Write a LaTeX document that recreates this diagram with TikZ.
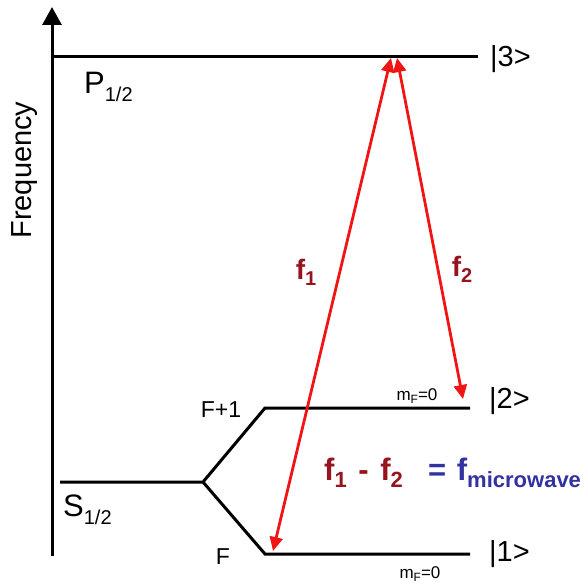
\documentclass[tikz,border=0pt]{standalone}
\usepackage{fontspec}
\setmainfont{Liberation Sans}
\usetikzlibrary{arrows.meta}
\definecolor{laser}{RGB}{240,20,20}
\definecolor{dred}{RGB}{150,20,30}
\definecolor{dblue}{RGB}{50,50,160}
\newcommand\fs[1]{\fontsize{#1}{#1}\selectfont}
\newcommand\lowsub[2]{\raisebox{-#1}{#2}}
\begin{document}
\begin{tikzpicture}[x=1pt,y=-1pt,
  level/.style={line width=3pt,black},
  beam/.style={line width=2.8pt,laser,{Triangle[length=14pt,width=13pt]}-{Triangle[length=14pt,width=13pt]}},
  lbl/.style={inner sep=0pt,font=\fs{23}},
  ket/.style={inner sep=0pt,font=\fs{29},anchor=west},
  mf/.style={inner sep=0pt,font=\fs{17}},
  flab/.style={inner sep=0pt,font=\fs{28}\bfseries,text=dred}]
\useasboundingbox (0,0) rectangle (588,583);
% axis
\coordinate (ax0) at (52,556);
\coordinate (ax1) at (52,7);
\draw[line width=3pt,-{Triangle[length=18pt,width=19pt]}] (ax0) -- (ax1);
\node[lbl,rotate=90,font=\fs{29}] (freq) at (25,170) {Frequency};
% P level
\coordinate (p0) at (52,57);
\coordinate (p1) at (478,57);
\draw[level] (p0) -- (p1);
\node[lbl,anchor=west,font=\fs{31}] (P) at (84,87) {P\lowsub{8pt}{\fs{20}1/2}};
\node[ket] (k3) at (490,59) {|3>};
% S level
\coordinate (s0) at (60,482);
\coordinate (br) at (203,482);
\coordinate (u0) at (265,408);
\coordinate (u1) at (470,408);
\coordinate (l0) at (265,554);
\coordinate (l1) at (470,554);
\draw[level,line join=miter] (s0) -- (br) -- (u0) -- (u1);
\draw[level,line join=miter] (br) -- (l0) -- (l1);
\node[lbl,anchor=west,font=\fs{31}] (S) at (63,510) {S\lowsub{8pt}{\fs{20}1/2}};
\node[lbl,font=\fs{23}] (Fp) at (221,410) {F+1};
\node[lbl,font=\fs{23}] (F) at (223,557) {F};
\node[mf] (m2) at (417,396) {m\lowsub{3pt}{\fs{12}F}=0};
\node[mf] (m1) at (420,574) {m\lowsub{3pt}{\fs{12}F}=0};
\node[ket] (k2) at (489,401) {|2>};
\node[ket] (k1) at (489,554) {|1>};
% beams
\coordinate (a1) at (273,551);
\coordinate (a2) at (391,58);
\coordinate (b1) at (397,58);
\coordinate (b2) at (463,399);
\draw[beam] (a1) -- (a2);
\draw[beam] (b1) -- (b2);
\node[flab] (f1) at (306,272) {f\lowsub{6pt}{\fs{20}1}};
\node[flab] (f2) at (462,269) {f\lowsub{6pt}{\fs{20}2}};
% equation
\node[flab,anchor=west,font=\fs{31}\bfseries] (eq1) at (324,473) {f\lowsub{7pt}{\fs{22}1} \hspace{3pt}- \hspace{3pt}f\lowsub{7pt}{\fs{22}2}};
\node[flab,anchor=west,text=dblue,font=\fs{31}\bfseries] (eq2) at (428,473) {= \hspace{2pt}f\lowsub{7pt}{\fs{22}microwave}};
\end{tikzpicture}
\end{document}
